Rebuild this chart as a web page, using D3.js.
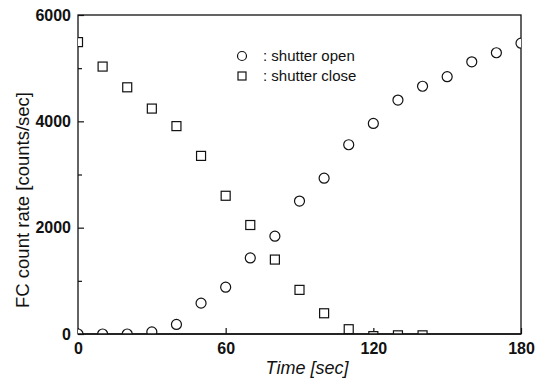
<!DOCTYPE html>
<html>
<head>
<meta charset="utf-8">
<script src="https://cdn.jsdelivr.net/npm/d3@7"></script>
<style>
  body { margin: 0; background: #fff; }
  svg { display: block; font-family: Arial, "Liberation Sans", sans-serif; }
</style>
</head>
<body>
<svg id="chart" width="535" height="379"></svg>
<script>
// time in seconds
var times = [0, 10, 20, 30, 40, 50, 60, 70, 80, 90, 100, 110, 120, 130, 140, 150, 160, 170, 180];
// shutter open (circles)
var openRate = [0, 0, 0, 40, 180, 580, 880, 1430, 1840, 2500, 2930, 3560, 3960, 4400, 4660, 4840, 5120, 5290, 5470];
// shutter close (squares), nothing visible after 140 s
var closeRate = [5490, 5030, 4640, 4240, 3910, 3350, 2600, 2050, 1400, 830, 390, 90, -40, -25, -25];
var xTicks = [0, 60, 120, 180];
var yTicks = [0, 2000, 4000, 6000];
var yMinor = [1000, 3000, 5000];
var legendLabels = [': shutter open', ': shutter close'];

var margin = {top: 15, right: 14, bottom: 45, left: 78};
var svg = d3.select('#chart');
var w = 535 - margin.left - margin.right;
var h = 379 - margin.top - margin.bottom;

var x = d3.scaleLinear().domain([0, 180]).range([0, w]);
var y = d3.scaleLinear().domain([0, 6000]).range([h, 0]);

var g = svg.append('g').attr('transform', 'translate(' + margin.left + ',' + margin.top + ')');

svg.append('defs').append('clipPath').attr('id', 'clip')
    .append('rect').attr('width', w).attr('height', h);

// frame
g.append('rect')
    .attr('width', w).attr('height', h)
    .attr('fill', 'none').attr('stroke', '#111').attr('stroke-width', 1.3);

// bottom axis, ticks inward
var xAxis = g.append('g')
    .attr('transform', 'translate(0,' + h + ')')
    .call(d3.axisBottom(x).tickValues(xTicks).tickSizeInner(-6).tickSizeOuter(0).tickPadding(9));
xAxis.select('.domain').remove();

var yAxis = g.append('g')
    .call(d3.axisLeft(y).tickValues(yTicks).tickFormat(d3.format('d'))
        .tickSizeInner(-6).tickSizeOuter(0).tickPadding(7));
yAxis.select('.domain').remove();

g.append('g')
    .call(d3.axisLeft(y).tickValues(yMinor).tickSizeInner(-4).tickSizeOuter(0).tickFormat(''))
    .select('.domain').remove();

g.selectAll('.tick line').attr('stroke', '#111').attr('stroke-width', 1.2);
g.selectAll('.tick text')
    .attr('fill', '#111')
    .style('font-size', '16px')
    .style('font-weight', 'bold');

// axis titles
svg.append('text')
    .attr('x', 307).attr('y', 374)
    .attr('text-anchor', 'middle')
    .style('font-size', '18px').style('font-style', 'italic')
    .attr('fill', '#111')
    .text('Time [sec]');

svg.append('text')
    .attr('transform', 'translate(29,200) rotate(-90)')
    .attr('text-anchor', 'middle')
    .style('font-size', '18.5px')
    .attr('fill', '#111')
    .text('FC count rate [counts/sec]');

// markers, clipped at the frame
var marks = g.append('g').attr('clip-path', 'url(#clip)');

marks.selectAll('.open').data(openRate).enter()
    .append('circle')
    .attr('class', 'open')
    .attr('cx', function(d, i){ return x(times[i]); })
    .attr('cy', function(d){ return y(d); })
    .attr('r', 5)
    .attr('fill', '#fff').attr('stroke', '#111').attr('stroke-width', 1.2);

marks.selectAll('.close').data(closeRate).enter()
    .append('rect')
    .attr('class', 'close')
    .attr('x', function(d, i){ return x(times[i]) - 4.5; })
    .attr('y', function(d){ return y(d) - 4.5; })
    .attr('width', 9).attr('height', 9)
    .attr('fill', '#fff').attr('stroke', '#111').attr('stroke-width', 1.2);

// redraw the frame bottom/left over the markers
g.append('line').attr('x1', 0).attr('x2', w).attr('y1', h).attr('y2', h)
    .attr('stroke', '#111').attr('stroke-width', 1.3);

// legend
var legend = svg.append('g').attr('transform', 'translate(242,56)');
legend.append('circle').attr('r', 4.5)
    .attr('fill', '#fff').attr('stroke', '#111').attr('stroke-width', 1.2);
legend.append('rect').attr('x', -4).attr('y', 16).attr('width', 8).attr('height', 8)
    .attr('fill', '#fff').attr('stroke', '#111').attr('stroke-width', 1.2);
legend.selectAll('text').data(legendLabels).enter()
    .append('text')
    .attr('x', 21)
    .attr('y', function(d, i){ return i * 20 + 5; })
    .style('font-size', '15px')
    .attr('fill', '#111')
    .text(function(d){ return d; });
</script>
</body>
</html>
